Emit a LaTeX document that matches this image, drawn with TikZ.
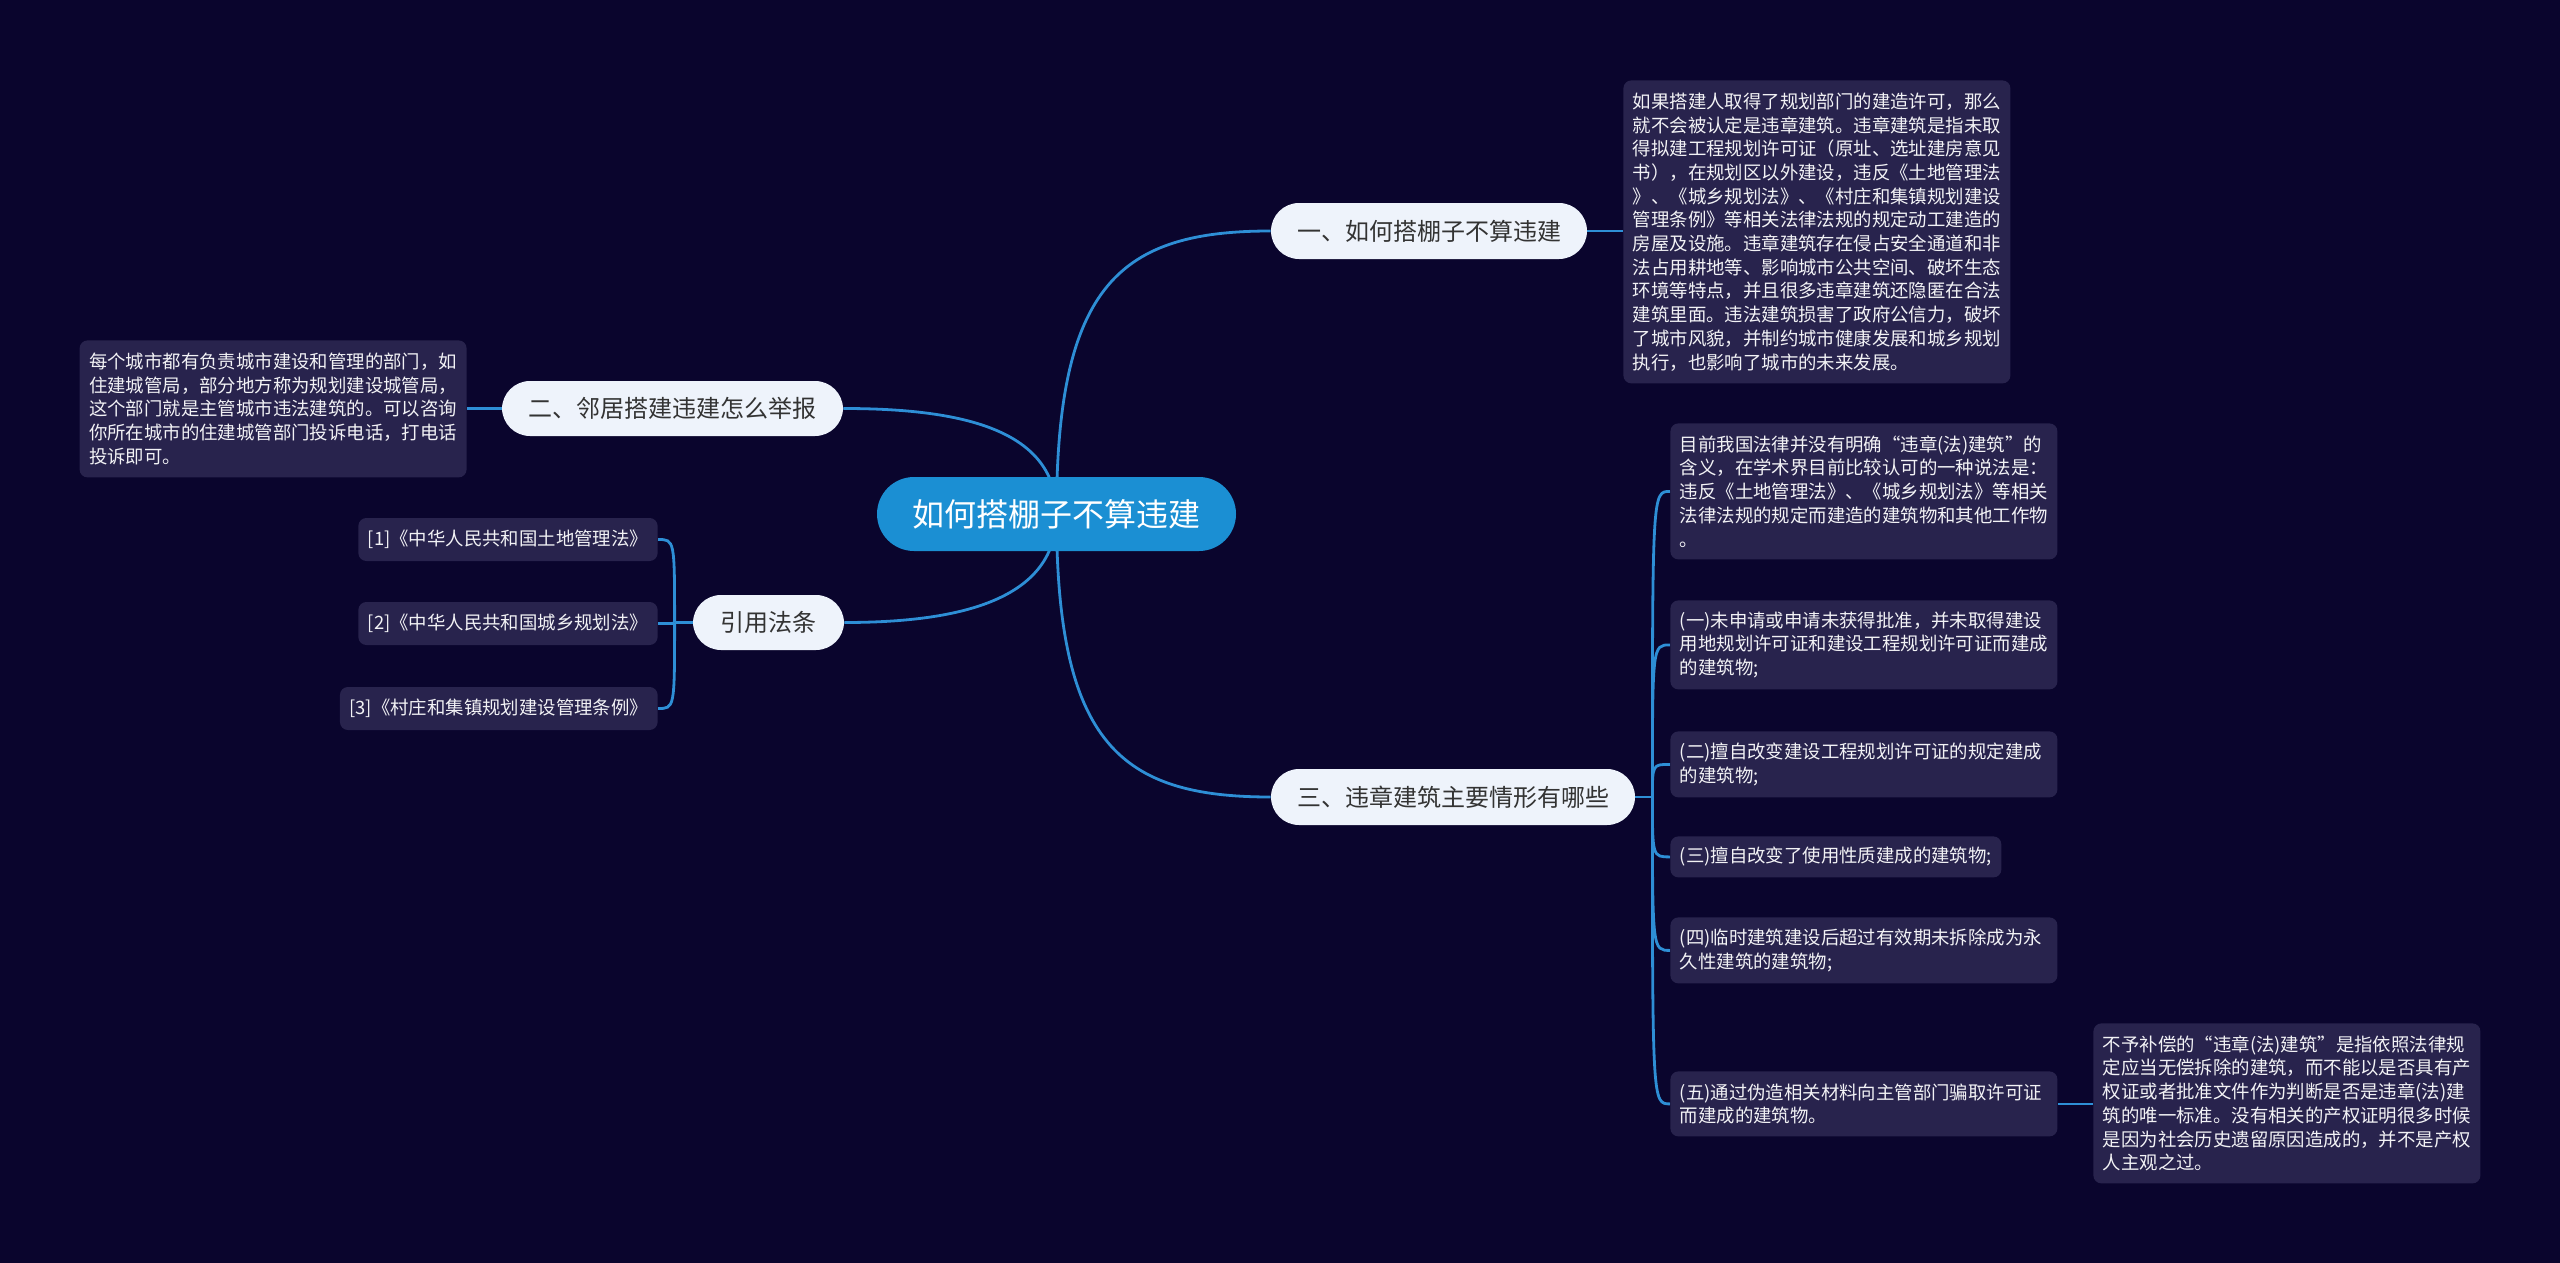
\documentclass[tikz,border=0pt]{standalone}
\usepackage{fontspec}
\setmainfont{Noto Sans CJK SC}
\definecolor{bgc}{HTML}{0A052D}
\definecolor{leafc}{HTML}{28234D}
\definecolor{leaftxt}{HTML}{F2F2F5}
\definecolor{linec}{HTML}{2E8FD6}
\definecolor{brfill}{HTML}{EEF3FB}
\definecolor{brtext}{HTML}{333333}
\definecolor{ctrfill}{HTML}{1B8FD3}
\pgfdeclarelayer{bgl}
\pgfdeclarelayer{lines}
\pgfsetlayers{bgl,lines,main}
\tikzset{
  leaf/.style={fill=leafc, rounded corners=4pt, text=leaftxt, align=left,
    inner xsep=4.75pt, inner ysep=0pt, anchor=north west,
    font=\fontsize{9.2pt}{11.85pt}\selectfont},
  wide/.style={text width=184pt},
  branch/.style={fill=brfill, text=brtext, rounded corners=14pt, inner sep=0pt,
    font=\fontsize{12pt}{14pt}\selectfont},
  root/.style={fill=ctrfill, text=white, rounded corners=18.5pt, inner sep=0pt,
    minimum width=179.5pt, minimum height=37pt,
    font=\fontsize{16pt}{18pt}\selectfont},
  conn/.style={draw=linec, line width=1.4pt}
}
\begin{document}
\begin{tikzpicture}[x=0.5pt,y=-0.5pt]
\begin{pgfonlayer}{bgl}
\fill[bgc] (0,0) rectangle (2560,1263);
\end{pgfonlayer}
\useasboundingbox (0,0) rectangle (2560,1263);

% root and branches
\node[root] (ctr) at (1056.5,514) {如何搭棚子不算违建};
\node[branch, minimum width=158pt, minimum height=28pt] (b1) at (1429,231) {一、如何搭棚子不算违建};
\node[branch, minimum width=170.5pt, minimum height=27.5pt] (b2) at (672.5,408.5) {二、邻居搭建违建怎么举报};
\node[branch, minimum width=182pt, minimum height=28pt] (b3) at (1453,797) {三、违章建筑主要情形有哪些};
\node[branch, minimum width=75.5pt, minimum height=27.5pt] (b4) at (768.5,622.5) {引用法条};

% leaves
\node[leaf, wide, minimum height=151.5pt] (t1) at (1623,80) {如果搭建人取得了规划部门的建造许可，那么\\就不会被认定是违章建筑。违章建筑是指未取\\得拟建工程规划许可证（原址、选址建房意见\\书），在规划区以外建设，违反《土地管理法\\》、《城乡规划法》、《村庄和集镇规划建设\\管理条例》等相关法律法规的规定动工建造的\\房屋及设施。违章建筑存在侵占安全通道和非\\法占用耕地等、影响城市公共空间、破坏生态\\环境等特点，并且很多违章建筑还隐匿在合法\\建筑里面。违法建筑损害了政府公信力，破坏\\了城市风貌，并制约城市健康发展和城乡规划\\执行，也影响了城市的未来发展。};

\node[leaf, anchor=north east, minimum height=68.5pt] (t2) at (467,340) {每个城市都有负责城市建设和管理的部门，如\\住建城管局，部分地方称为规划建设城管局，\\这个部门就是主管城市违法建筑的。可以咨询\\你所在城市的住建城管部门投诉电话，打电话\\投诉即可。};

\node[leaf, anchor=east, minimum height=21.5pt] (r1) at (658,539.5) {[1]《中华人民共和国土地管理法》};
\node[leaf, anchor=east, minimum height=21.5pt] (r2) at (658,623.5) {[2]《中华人民共和国城乡规划法》};
\node[leaf, anchor=east, minimum height=21.5pt] (r3) at (658,708.5) {[3]《村庄和集镇规划建设管理条例》};

\node[leaf, wide, minimum height=68pt] (c1) at (1670,423) {目前我国法律并没有明确“违章(法)建筑”的\\含义，在学术界目前比较认可的一种说法是：\\违反《土地管理法》、《城乡规划法》等相关\\法律法规的规定而建造的建筑物和其他工作物\\。};
\node[leaf, wide, minimum height=44.5pt] (c2) at (1670,600) {(一)未申请或申请未获得批准，并未取得建设\\用地规划许可证和建设工程规划许可证而建成\\的建筑物;};
\node[leaf, wide, minimum height=33pt] (c3) at (1670,731) {(二)擅自改变建设工程规划许可证的规定建成\\的建筑物;};
\node[leaf, minimum height=20.5pt] (c4) at (1670,836) {(三)擅自改变了使用性质建成的建筑物;};
\node[leaf, wide, minimum height=33pt] (c5) at (1670,917) {(四)临时建筑建设后超过有效期未拆除成为永\\久性建筑的建筑物;};
\node[leaf, wide, minimum height=32.5pt] (c6) at (1670,1071) {(五)通过伪造相关材料向主管部门骗取许可证\\而建成的建筑物。};
\node[leaf, wide, minimum height=80pt] (c7) at (2093,1023) {不予补偿的“违章(法)建筑”是指依照法律规\\定应当无偿拆除的建筑，而不能以是否具有产\\权证或者批准文件作为判断是否是违章(法)建\\筑的唯一标准。没有相关的产权证明很多时候\\是因为社会历史遗留原因造成的，并不是产权\\人主观之过。};

% connectors
\begin{pgfonlayer}{lines}
\draw[conn] (ctr.center) .. controls +(0,-230) and +(-150,0) .. (b1.west);
\draw[conn] (ctr.center) .. controls +(0,230) and +(-150,0) .. (b3.west);
\draw[conn] (ctr.center) .. controls +(0,-84) and +(120,0) .. (b2.east);
\draw[conn] (ctr.center) .. controls +(0,84) and +(120,0) .. (b4.east);
\draw[conn] (b1.east) -- (t1.west |- b1.east);
\draw[conn] (b2.west) -- (t2.east |- b2.west);
\draw[conn] (b4.west) -- ++(-18,0) coordinate (s4);
\foreach \c in {r1,r2,r3}{
  \draw[conn] (s4) .. controls (s4 |- \c.east) and (s4 |- \c.east) .. (\c.east);
}
\draw[conn] (b3.east) -- ++(17,0) coordinate (s3);
\foreach \c in {c1,c2,c3,c4,c5,c6}{
  \draw[conn] (s3) .. controls (s3 |- \c.west) and (s3 |- \c.west) .. (\c.west);
}
\draw[conn] (c6.east) -- (c7.west |- c6.east);
\end{pgfonlayer}
\end{tikzpicture}
\end{document}
